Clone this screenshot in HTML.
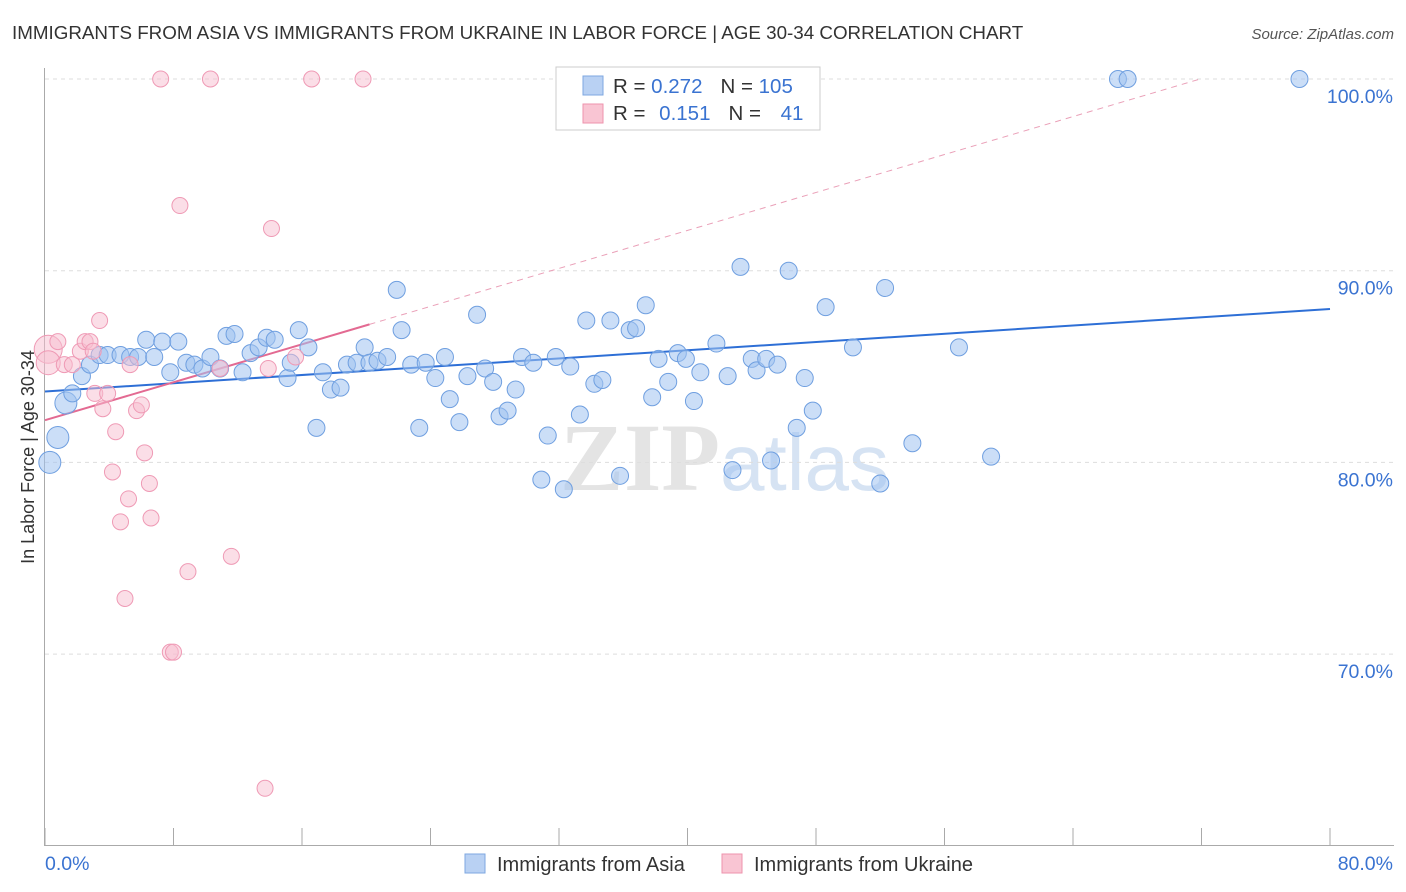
<!DOCTYPE html>
<html><head><meta charset="utf-8"><style>
body{margin:0;background:#fff;font-family:"Liberation Sans",sans-serif;}
#wrap{position:relative;width:1406px;height:892px;overflow:hidden;}
</style></head><body>
<div id="wrap">
<svg id="svg" width="1406" height="892" xmlns="http://www.w3.org/2000/svg">
<text x="12" y="39" font-size="18.8" fill="#333">IMMIGRANTS FROM ASIA VS IMMIGRANTS FROM UKRAINE IN LABOR FORCE | AGE 30-34 CORRELATION CHART</text>
<text x="1394" y="39" font-size="15" fill="#555" font-style="italic" text-anchor="end">Source: ZipAtlas.com</text>
<text x="720" y="490" font-size="96" fill="#e4e4e4" text-anchor="end" font-family="Liberation Serif" font-weight="bold">ZIP</text>
<text x="720" y="490" font-size="80" fill="#d6e3f3">atlas</text>
<g id="grid"></g><g id="axes"></g><g id="lines"></g><g id="pts"></g>
<text transform="translate(34,457) rotate(-90)" font-size="18" fill="#333" text-anchor="middle">In Labor Force | Age 30-34</text>
<rect x="556" y="67" width="264" height="63" fill="#fff" stroke="#ccc"/>
<rect x="583" y="76" width="20" height="19" fill="#b9d1f3" stroke="#7ea7e0"/>
<rect x="583" y="104" width="20" height="19" fill="#f9c5d3" stroke="#ee93ad"/>
<text x="613" y="93" font-size="20.5" fill="#333">R = <tspan fill="#3a73d1">0.272</tspan><tspan dx="18">N = </tspan><tspan fill="#3a73d1">105</tspan></text>
<text x="613" y="120" font-size="20.5" fill="#333">R = <tspan dx="8" fill="#3a73d1">0.151</tspan><tspan dx="18">N = </tspan><tspan dx="14" fill="#3a73d1">41</tspan></text>
<rect x="465" y="854" width="20" height="19" fill="#b9d1f3" stroke="#7ea7e0"/>
<text x="497" y="871" font-size="20" fill="#333">Immigrants from Asia</text>
<rect x="722" y="854" width="20" height="19" fill="#f9c5d3" stroke="#ee93ad"/>
<text x="754" y="871" font-size="20" fill="#333">Immigrants from Ukraine</text>
</svg></div>
<script>
const asiaX=[0.3,0.8,1.3,1.7,2.3,2.8,3.4,3.9,4.7,5.3,5.8,6.3,6.8,7.3,7.8,8.3,8.8,9.3,9.8,10.3,10.9,11.3,11.8,12.3,12.8,13.3,13.8,14.3,15.1,15.3,15.8,16.4,16.9,17.3,17.8,18.4,18.8,19.4,19.9,20.2,20.7,21.3,21.9,22.2,22.8,23.3,23.7,24.3,24.9,25.2,25.8,26.3,26.9,27.4,27.9,28.3,28.8,29.3,29.7,30.4,30.9,31.3,31.8,32.3,32.7,33.3,33.7,34.2,34.7,35.2,35.8,36.4,36.8,37.4,37.8,38.2,38.8,39.4,39.9,40.4,40.8,41.8,42.5,42.8,43.3,44.0,44.3,44.9,45.2,45.6,46.3,46.8,47.3,47.8,48.6,50.3,52.0,52.3,54.0,56.9,58.9,66.8,67.4,78.1];
const asiaY=[80.0,81.3,83.1,83.6,84.5,85.1,85.6,85.6,85.6,85.5,85.5,86.4,85.5,86.3,84.7,86.3,85.2,85.1,84.9,85.5,84.9,86.6,86.7,84.7,85.7,86.0,86.5,86.4,84.4,85.2,86.9,86.0,81.8,84.7,83.8,83.9,85.1,85.2,86.0,85.2,85.3,85.5,89.0,86.9,85.1,81.8,85.2,84.4,85.5,83.3,82.1,84.5,87.7,84.9,84.2,82.4,82.7,83.8,85.5,85.2,79.1,81.4,85.5,78.6,85.0,82.5,87.4,84.1,84.3,87.4,79.3,86.9,87.0,88.2,83.4,85.4,84.2,85.7,85.4,83.2,84.7,86.2,84.5,79.6,90.2,85.4,84.8,85.4,80.1,85.1,90.0,81.8,84.4,82.7,88.1,86.0,78.9,89.1,81.0,86.0,80.3,100,100,100];
const ukrX=[0.2,0.2,0.8,1.2,1.7,2.2,2.5,2.8,3.0,3.1,3.4,3.6,3.9,4.2,4.4,4.7,4.98,5.2,5.3,5.7,6.0,6.2,6.5,6.6,7.2,7.8,8.0,8.4,8.9,10.3,10.9,11.6,13.7,13.9,14.1,15.6,16.6,19.8];
const ukrY=[85.9,85.2,86.3,85.1,85.1,85.8,86.3,86.3,85.8,83.6,87.4,82.8,83.6,79.5,81.6,76.9,72.9,78.1,85.1,82.7,83.0,80.5,78.9,77.1,100,70.1,70.1,93.4,74.3,100,84.9,75.1,63.0,84.9,92.2,85.5,100,100];
const asiaTrend=[83.7,88.0];
const ukrTrend=[82.2,0.2475];
const yTicks=[70,80,90,100];
const xTickLabels=["0.0%","80.0%"];
const sx=v=>45+v*1285/80, sy=v=>79+(100-v)*19.17;
const NS="http://www.w3.org/2000/svg";
function mk(tag,parent,attrs){const e=document.createElementNS(NS,tag);for(const k in attrs)e.setAttribute(k,attrs[k]);document.getElementById(parent).appendChild(e);return e;}
yTicks.forEach(t=>{
 const l=mk('line','grid',{x1:45,x2:1394,y1:sy(t),y2:sy(t),stroke:'#ddd','stroke-dasharray':'4 4'});
 
 
 const tx=mk('text','axes',{x:1393,y:sy(t)+24,'font-size':19.5,fill:'#3a73d1','text-anchor':'end'});tx.textContent=t.toFixed(1)+'%';
 
 
});
let a=mk('line','axes',{x1:44.5,x2:44.5,y1:68,y2:845,stroke:'#aaa'});


a=mk('line','axes',{x1:44,x2:1394,y1:845.5,y2:845.5,stroke:'#aaa'});


for(let i=0;i<=10;i++){const t=mk('line','axes',{x1:sx(i*8),x2:sx(i*8),y1:828,y2:845,stroke:'#aaa'});
 
 }
[[0,45,'start'],[1,1393,'end']].forEach(([i,x,an])=>{const t=mk('text','axes',{x:x,y:870,'font-size':19.5,fill:'#3a73d1','text-anchor':an});t.textContent=xTickLabels[i];
 
 });
const xEnd=(100-ukrTrend[0])/ukrTrend[1];
let ln=mk('line','lines',{x1:sx(20.2),y1:sy(ukrTrend[0]+ukrTrend[1]*20.2),x2:sx(xEnd),y2:sy(100),stroke:'#eaa0b8','stroke-dasharray':'6 5','stroke-width':1});


ln=mk('line','lines',{x1:sx(0),y1:sy(asiaTrend[0]),x2:sx(80),y2:sy(asiaTrend[1]),stroke:'#2e6fd6','stroke-width':2});


ln=mk('line','lines',{x1:sx(0),y1:sy(ukrTrend[0]),x2:sx(20.2),y2:sy(ukrTrend[0]+ukrTrend[1]*20.2),stroke:'#e36a92','stroke-width':2});


asiaX.forEach((x,i)=>{const r=i<3?11:8.5;const c=mk('circle','pts',{cx:sx(x),cy:sy(asiaY[i]),r:r,fill:'rgba(160,195,240,0.55)',stroke:'#6f9fe0','stroke-width':1});
 
 });
ukrX.forEach((x,i)=>{const r=i==0?14:(i==1?12:8);const c=mk('circle','pts',{cx:sx(x),cy:sy(ukrY[i]),r:r,fill:'rgba(248,190,208,0.5)',stroke:'#ef9ab5','stroke-width':1});
 
 });
</script>
</body></html>
